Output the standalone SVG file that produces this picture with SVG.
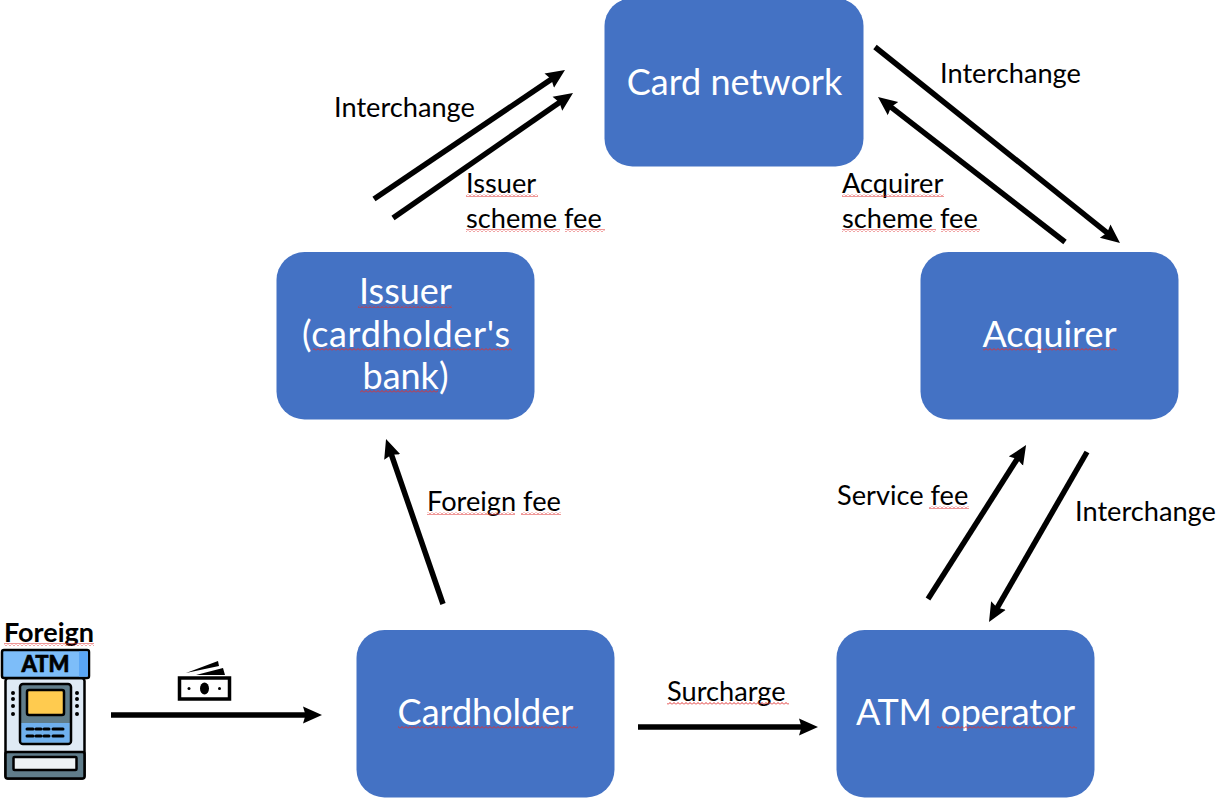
<svg xmlns="http://www.w3.org/2000/svg" width="1216" height="798" viewBox="0 0 1216 798">
<style>
.node{fill:#4472c4}
.nt{font-family:Lato,Carlito,"Open Sans",sans-serif;font-size:36px;fill:#fff;text-anchor:middle}
.lb{font-family:Lato,Carlito,"Open Sans",sans-serif;font-size:27.2px;fill:#000}
.c{stroke:#000;stroke-width:5.5;fill:none;marker-end:url(#ah)}
.k{stroke:#000;stroke-width:2.5;stroke-linejoin:round}
.w{fill:url(#sq)}
</style>
<defs>
<marker id="ah" markerUnits="userSpaceOnUse" markerWidth="22" markerHeight="20" refX="9" refY="9" orient="auto">
<path d="M0,0.5 L19,9 L0,17.5 L2.5,9 Z" fill="#000"/>
</marker>
<pattern id="sq" patternUnits="userSpaceOnUse" width="4" height="3">
<path d="M0,2.5 L2,0.5 L4,2.5" fill="none" stroke="#e02f2f" stroke-width="1"/>
</pattern>
</defs>
<rect width="1216" height="798" fill="#fff"/>
<g id="connectors">
<path class="c" d="M374,199 L556.7,75.6"/>
<path class="c" d="M393,218 L564.8,98.7"/>
<path class="c" d="M875,47 L1112.2,236.8"/>
<path class="c" d="M1065,242 L885.9,103.1"/>
<path class="c" d="M928,599 L1020.7,453.5"/>
<path class="c" d="M1087,452 L994,613.3"/>
<path class="c" d="M443,604 L389.3,448.5"/>
<path class="c" d="M638,727 L808,727"/>
<path class="c" d="M111,715 L312,715"/>
</g>
<g id="card-network">
<rect class="node" x="604.500" y="-2" width="259" height="168.500" rx="28"/>
<text class="nt" x="734.500" y="95">Card network</text>
</g>
<g id="issuer">
<rect class="node" x="276.500" y="252" width="258" height="167.500" rx="28"/>
<text class="nt" x="405.500" y="304">Issuer</text>
<text class="nt" x="406" y="347" textLength="208" lengthAdjust="spacing">(cardholder's</text>
<text class="nt" x="405.500" y="389">bank)</text>
<rect class="w" x="358" y="305" width="94" height="3"/>
<rect class="w" x="313" y="348" width="199" height="3"/>
<rect class="w" x="360" y="390" width="78" height="3"/>
</g>
<g id="acquirer">
<rect class="node" x="920.500" y="252" width="258" height="167.500" rx="28"/>
<text class="nt" x="1049.500" y="347">Acquirer</text>
<rect class="w" x="983" y="348" width="134" height="3"/>
</g>
<g id="cardholder">
<rect class="node" x="356.500" y="630" width="258" height="167.500" rx="28"/>
<text class="nt" x="485.500" y="725">Cardholder</text>
<rect class="w" x="398" y="726" width="180" height="3"/>
</g>
<g id="atm-operator">
<rect class="node" x="836.500" y="630" width="258" height="167.500" rx="28"/>
<text class="nt" x="965.500" y="725" textLength="219" lengthAdjust="spacing">ATM operator</text>
<rect class="w" x="937" y="726" width="140" height="3"/>
</g>
<g id="labels">
<text class="lb" x="334" y="117">Interchange</text>
<text class="lb" x="466" y="193">Issuer</text>
<text class="lb" x="466" y="228">scheme fee</text>
<rect class="w" x="466" y="194" width="72" height="3"/>
<rect class="w" x="466" y="229" width="94" height="3"/>
<rect class="w" x="565" y="229" width="40" height="3"/>
<text class="lb" x="940" y="83">Interchange</text>
<text class="lb" x="842" y="193">Acquirer</text>
<text class="lb" x="842" y="228">scheme fee</text>
<rect class="w" x="842" y="194" width="102" height="3"/>
<rect class="w" x="842" y="229" width="94" height="3"/>
<rect class="w" x="941" y="229" width="39" height="3"/>
<text class="lb" x="427" y="511">Foreign fee</text>
<rect class="w" x="427" y="512" width="88" height="3"/>
<rect class="w" x="521" y="512" width="40" height="3"/>
<text class="lb" x="837" y="505">Service fee</text>
<rect class="w" x="929" y="506" width="40" height="3"/>
<text class="lb" x="1075" y="521">Interchange</text>
<text class="lb" x="667" y="701">Surcharge</text>
<rect class="w" x="667" y="702" width="122" height="3"/>
<text x="4" y="642" font-family="Lato,Carlito,sans-serif" font-size="27" font-weight="700" fill="#000">Foreign</text>
<rect class="w" x="4" y="643" width="90" height="3"/>
</g>
<g id="atm-icon">
<rect class="k" x="5.500" y="678" width="79" height="100.500" rx="3" fill="#dfeaf5"/>
<rect class="k" x="5.500" y="752" width="79" height="26.500" rx="2" fill="#607d8b"/>
<rect class="k" x="13.500" y="757" width="63" height="13" rx="1" fill="#eef3f5"/>
<rect class="k" x="2" y="650" width="87" height="28" rx="2" fill="#7dbdf9"/>
<rect x="79" y="651.500" width="9" height="25" fill="#5aa6f5"/>
<text x="45.500" y="672" font-family="Lato,Carlito,sans-serif" font-size="22" font-weight="900" fill="#000" stroke="#000" stroke-width="0.6" text-anchor="middle">ATM</text>
<rect class="k" x="20" y="684" width="51" height="60" rx="3" fill="#607d8b"/>
<rect class="k" x="27" y="690" width="37" height="25" rx="2" fill="#ffcb4f"/>
<rect x="21.500" y="723" width="48" height="19.500" fill="#6fb0ee"/>
<path d="M27,729h6M36,729h5M44,729h5M53,729h10M27,736h6M36,736h5M44,736h5M53,736h10" stroke="#000" stroke-width="3" stroke-linecap="round" fill="none"/>
<path d="M13,693v0M13,699v0M13,706v0M13,714v0M77,693v0M77,699v0M77,706v0M77,714v0" stroke="#000" stroke-width="4" stroke-linecap="round" fill="none"/>
</g>
<g id="cash-icon">
<rect x="179.500" y="678" width="50" height="21" fill="#fff" stroke="#000" stroke-width="3.500"/>
<ellipse cx="204.500" cy="688.500" rx="4.500" ry="6" fill="#000"/>
<circle cx="189" cy="688.500" r="1.500" fill="#000"/>
<circle cx="219.500" cy="688.500" r="1.500" fill="#000"/>
<path d="M186,673 L218,661 L219,666 Z M196,675 L223,668 L225,675 Z" fill="#000"/>
</g>
</svg>
